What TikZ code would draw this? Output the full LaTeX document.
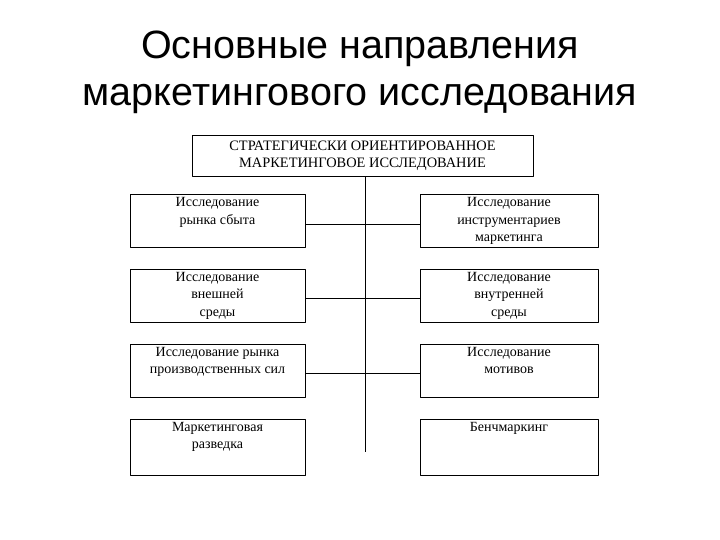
\documentclass[tikz,border=0pt]{standalone}
\usepackage{fontspec}
\setmainfont{Liberation Serif}
\newfontfamily\titlefont{Liberation Sans}
\begin{document}
\begin{tikzpicture}[x=1pt,y=-1pt,line join=round,line width=0.7pt]
	\tikzset{blok/.style={draw,inner sep=0pt,minimum height=53pt},
		lblok/.style={blok,minimum width=175pt},
		rblok/.style={blok,minimum width=178pt},
		lbl/.style={anchor=north,align=center,inner sep=0pt,yshift=-3pt,font=\fontsize{14}{17.5}\selectfont}}
	\useasboundingbox (0,0) rectangle (720,540);
	\node[font=\titlefont\fontsize{39.5}{47}\selectfont,align=center] (title) at (360,72) {Основные направления\\маркетингового исследования};
	\node[draw,inner sep=0pt,minimum width=341pt,minimum height=41pt,align=center,font=\fontsize{14.4}{17}\selectfont] (top) at (362.5,155.5) {СТРАТЕГИЧЕСКИ ОРИЕНТИРОВАННОЕ\\МАРКЕТИНГОВОЕ ИССЛЕДОВАНИЕ};
	% left column
	\node[lblok,label={[lbl]north:Исследование\\рынка сбыта}] (l1) at (217.5,221) {};
	\node[lblok,label={[lbl]north:Исследование\\внешней\\среды}] (l2) at (217.5,295.5) {};
	\node[lblok,label={[lbl]north:Исследование рынка\\производственных сил}] (l3) at (217.5,370.5) {};
	\node[lblok,minimum height=56pt,label={[lbl]north:Маркетинговая\\разведка}] (l4) at (217.5,447) {};
	% right column
	\node[rblok,label={[lbl]north:Исследование\\инструментариев\\маркетинга}] (r1) at (509,221) {};
	\node[rblok,label={[lbl]north:Исследование\\внутренней\\среды}] (r2) at (509,295.5) {};
	\node[rblok,label={[lbl]north:Исследование\\мотивов}] (r3) at (509,370.5) {};
	\node[rblok,minimum height=56pt,label={[lbl]north:Бенчмаркинг}] (r4) at (509,447) {};
	\coordinate (stem) at (365,452);
	\draw (top.south -| stem) -- (stem);
	\foreach \i in {1,2,3}
	\draw ([yshift=-3pt]l\i.east) -- ([yshift=-3pt]r\i.west);
\end{tikzpicture}
\end{document}
